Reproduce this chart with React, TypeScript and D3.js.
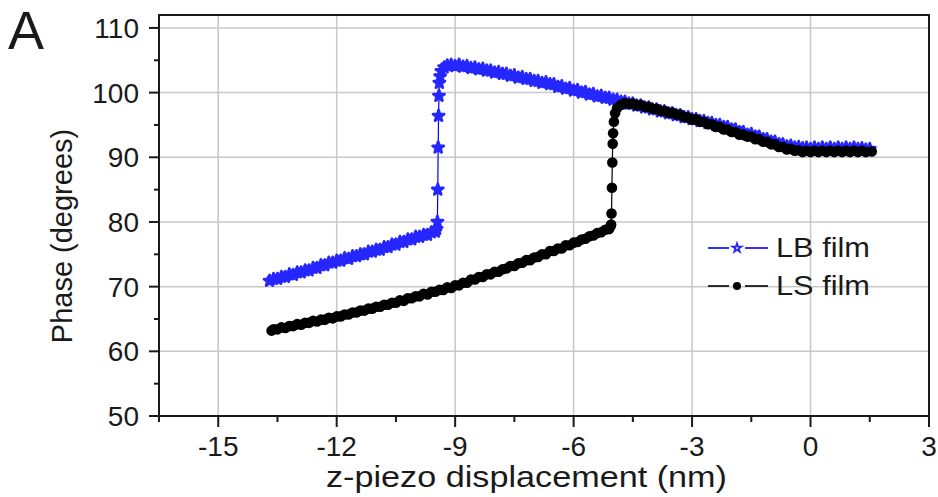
import React from "react";
import * as d3 from "d3";

// LB film (blue, stars): [z-piezo displacement (nm), phase (deg)]
const lbFilm: [number, number][] = [
  [-13.7, 70.9], [-13.6, 71.2], [-13.5, 71.2], [-13.4, 71.5], [-13.3, 71.5], [-13.2, 71.9],
  [-13.1, 71.8], [-13.0, 72.2], [-12.9, 72.2], [-12.8, 72.5], [-12.7, 72.5], [-12.6, 72.9],
  [-12.5, 72.9], [-12.4, 73.3], [-12.3, 73.3], [-12.2, 73.7], [-12.1, 73.7], [-12.0, 74.0],
  [-11.9, 74.0], [-11.8, 74.4], [-11.7, 74.3], [-11.6, 74.7], [-11.5, 74.7], [-11.4, 75.0],
  [-11.3, 75.0], [-11.2, 75.4], [-11.1, 75.4], [-11.0, 75.7], [-10.9, 75.7], [-10.8, 76.1],
  [-10.7, 76.1], [-10.6, 76.5], [-10.5, 76.5], [-10.4, 76.9], [-10.3, 76.9], [-10.2, 77.3],
  [-10.1, 77.3], [-10.0, 77.7], [-9.9, 77.7], [-9.8, 78.0], [-9.7, 78.0], [-9.6, 78.4],
  [-9.5, 78.5], [-9.47, 78.9],
  [-9.45, 80.0], [-9.44, 85.0], [-9.43, 91.5], [-9.42, 96.4], [-9.41, 99.5],
  [-9.4, 101.5], [-9.38, 102.5], [-9.35, 103.3], [-9.28, 103.9], [-9.2, 104.2],
  [-9.1, 104.3], [-9.0, 104.1], [-8.9, 104.3], [-8.8, 104.0], [-8.7, 104.1], [-8.6, 103.8],
  [-8.5, 103.9], [-8.4, 103.6], [-8.3, 103.7], [-8.2, 103.4], [-8.1, 103.4], [-8.0, 103.1],
  [-7.9, 103.2], [-7.8, 102.9], [-7.7, 102.9], [-7.6, 102.6], [-7.5, 102.7], [-7.4, 102.3],
  [-7.3, 102.4], [-7.2, 102.1], [-7.1, 102.1], [-7.0, 101.8], [-6.9, 101.8], [-6.8, 101.5],
  [-6.7, 101.6], [-6.6, 101.3], [-6.5, 101.3], [-6.4, 100.9], [-6.3, 101.0], [-6.2, 100.6],
  [-6.1, 100.7], [-6.0, 100.3], [-5.9, 100.4], [-5.8, 100.0], [-5.7, 100.1], [-5.6, 99.7],
  [-5.5, 99.8], [-5.4, 99.4], [-5.3, 99.5], [-5.2, 99.2], [-5.1, 99.2], [-5.0, 98.9],
  [-4.9, 98.9], [-4.8, 98.6], [-4.7, 98.6], [-4.6, 98.3], [-4.5, 98.3], [-4.4, 98.0],
  [-4.3, 98.0], [-4.2, 97.7], [-4.1, 97.7], [-4.0, 97.4], [-3.9, 97.4], [-3.8, 97.1],
  [-3.7, 97.1], [-3.6, 96.8], [-3.5, 96.8], [-3.4, 96.5], [-3.3, 96.5], [-3.2, 96.2],
  [-3.1, 96.2], [-3.0, 95.9], [-2.9, 95.9], [-2.8, 95.6], [-2.7, 95.6], [-2.6, 95.3],
  [-2.5, 95.3], [-2.4, 95.0], [-2.3, 95.0], [-2.2, 94.7], [-2.1, 94.7], [-2.0, 94.3],
  [-1.9, 94.3], [-1.8, 93.9], [-1.7, 93.9], [-1.6, 93.5], [-1.5, 93.6], [-1.4, 93.2],
  [-1.3, 93.2], [-1.2, 92.8], [-1.1, 92.8], [-1.0, 92.4], [-0.9, 92.4], [-0.8, 92.0],
  [-0.7, 92.0], [-0.6, 91.7], [-0.5, 91.8], [-0.4, 91.5], [-0.3, 91.6], [-0.2, 91.4],
  [-0.1, 91.5], [0.0, 91.3], [0.1, 91.5], [0.2, 91.3], [0.3, 91.5], [0.4, 91.3],
  [0.5, 91.5], [0.6, 91.3], [0.7, 91.5], [0.8, 91.3], [0.9, 91.5], [1.0, 91.3],
  [1.1, 91.5], [1.2, 91.3], [1.3, 91.4], [1.4, 91.2], [1.5, 91.3],
];

// LS film (black, circles)
const lsFilm: [number, number][] = [
  [-13.65, 63.2], [-13.6, 63.4], [-13.5, 63.4], [-13.4, 63.7], [-13.3, 63.6], [-13.2, 63.9],
  [-13.1, 63.9], [-13.0, 64.2], [-12.9, 64.1], [-12.8, 64.4], [-12.7, 64.4], [-12.6, 64.7],
  [-12.5, 64.6], [-12.4, 64.9], [-12.3, 64.9], [-12.2, 65.2], [-12.1, 65.1], [-12.0, 65.4],
  [-11.9, 65.4], [-11.8, 65.7], [-11.7, 65.7], [-11.6, 66.0], [-11.5, 66.0], [-11.4, 66.3],
  [-11.3, 66.3], [-11.2, 66.6], [-11.1, 66.6], [-11.0, 66.9], [-10.9, 66.9], [-10.8, 67.2],
  [-10.7, 67.2], [-10.6, 67.5], [-10.5, 67.5], [-10.4, 67.9], [-10.3, 67.8], [-10.2, 68.2],
  [-10.1, 68.2], [-10.0, 68.5], [-9.9, 68.5], [-9.8, 68.9], [-9.7, 68.8], [-9.6, 69.2],
  [-9.5, 69.2], [-9.4, 69.5], [-9.3, 69.5], [-9.2, 69.9], [-9.1, 69.8], [-9.0, 70.2],
  [-8.9, 70.2], [-8.8, 70.6], [-8.7, 70.6], [-8.6, 71.1], [-8.5, 71.1], [-8.4, 71.5],
  [-8.3, 71.5], [-8.2, 71.9], [-8.1, 71.9], [-8.0, 72.3], [-7.9, 72.3], [-7.8, 72.7],
  [-7.7, 72.8], [-7.6, 73.2], [-7.5, 73.2], [-7.4, 73.6], [-7.3, 73.7], [-7.2, 74.1],
  [-7.1, 74.1], [-7.0, 74.5], [-6.9, 74.6], [-6.8, 75.0], [-6.7, 75.0], [-6.6, 75.5],
  [-6.5, 75.5], [-6.4, 75.9], [-6.3, 75.9], [-6.2, 76.4], [-6.1, 76.4], [-6.0, 76.8],
  [-5.9, 76.9], [-5.8, 77.3], [-5.7, 77.4], [-5.6, 77.8], [-5.5, 77.9], [-5.4, 78.3],
  [-5.3, 78.4], [-5.2, 78.8], [-5.1, 78.9], [-5.06, 79.4],
  [-5.05, 79.6], [-5.04, 81.3], [-5.03, 85.3], [-5.02, 89.2], [-5.01, 92.1],
  [-5.0, 93.7], [-4.98, 95.5], [-4.95, 96.8], [-4.9, 97.6], [-4.8, 98.1],
  [-4.7, 98.4], [-4.6, 98.2], [-4.5, 98.3], [-4.4, 98.0], [-4.3, 98.1], [-4.2, 97.8],
  [-4.1, 97.8], [-4.0, 97.5], [-3.9, 97.5], [-3.8, 97.2], [-3.7, 97.2], [-3.6, 96.9],
  [-3.5, 96.9], [-3.4, 96.6], [-3.3, 96.6], [-3.2, 96.2], [-3.1, 96.2], [-3.0, 95.8],
  [-2.9, 95.9], [-2.8, 95.5], [-2.7, 95.5], [-2.6, 95.1], [-2.5, 95.1], [-2.4, 94.7],
  [-2.3, 94.7], [-2.2, 94.3], [-2.1, 94.3], [-2.0, 93.9], [-1.9, 93.9], [-1.8, 93.5],
  [-1.7, 93.5], [-1.6, 93.2], [-1.5, 93.2], [-1.4, 92.8], [-1.3, 92.8], [-1.2, 92.4],
  [-1.1, 92.4], [-1.0, 92.0], [-0.9, 92.0], [-0.8, 91.6], [-0.7, 91.6], [-0.6, 91.2],
  [-0.5, 91.3], [-0.4, 91.0], [-0.3, 91.1], [-0.2, 90.8], [-0.1, 91.0], [0.0, 90.8],
  [0.1, 91.0], [0.2, 90.8], [0.3, 91.0], [0.4, 90.8], [0.5, 91.0], [0.6, 90.8],
  [0.7, 91.0], [0.8, 90.8], [0.9, 91.0], [1.0, 90.8], [1.1, 91.0], [1.2, 90.8],
  [1.3, 91.0], [1.4, 90.8], [1.55, 90.9],
];

const xMajorTicks = [-15, -12, -9, -6, -3, 0, 3];
const xMinorTicks = [-16.5, -13.5, -10.5, -7.5, -4.5, -1.5, 1.5];
const yMajorTicks = [50, 60, 70, 80, 90, 100, 110];
const yMinorTicks = [55, 65, 75, 85, 95, 105];
const legendLabels = ["LB film", "LS film"];

const W = 938;
const H = 497;
const M = { left: 159, right: 929, top: 15, bottom: 416 };
const FONT = "'Liberation Sans', Arial, sans-serif";
const BLUE = "#2626ff";
const INK = "#1a1a1a";

export default function App() {
  const x = d3.scaleLinear().domain([-16.5, 3]).range([M.left, M.right]);
  const y = d3.scaleLinear().domain([50, 112]).range([M.bottom, M.top]);
  const line = d3
    .line<[number, number]>()
    .x((d) => x(d[0]))
    .y((d) => y(d[1]));
  const star = d3.symbol().type(d3.symbolStar).size(38)() as string;
  const starLegend = d3.symbol().type(d3.symbolStar).size(24)() as string;

  return (
    <svg
      width={W}
      height={H}
      style={{ position: "absolute", left: 0, top: 0, background: "#fff" }}
      fontFamily={FONT}
    >
      <rect x={0} y={0} width={W} height={H} fill="#fff" />
      {/* grid */}
      {xMajorTicks
        .filter((t) => t > -16.5 && t < 3)
        .map((t) => (
          <line key={"gx" + t} x1={x(t)} x2={x(t)} y1={M.top} y2={M.bottom} stroke="#c8c8c8" strokeWidth={1.5} />
        ))}
      {yMajorTicks
        .filter((t) => t > 50)
        .map((t) => (
          <line key={"gy" + t} x1={M.left} x2={M.right} y1={y(t)} y2={y(t)} stroke="#c8c8c8" strokeWidth={1.5} />
        ))}

      {/* LB film */}
      <path d={line(lbFilm) || ""} fill="none" stroke="#0000ff" strokeWidth={1.2} />
      {lbFilm.map((d, i) => (
        <path key={"lb" + i} d={star} transform={`translate(${x(d[0])},${y(d[1])})`} fill={BLUE} stroke={BLUE} strokeWidth={2.8} strokeLinejoin="round" />
      ))}
      {/* LS film */}
      <path d={line(lsFilm) || ""} fill="none" stroke="#000" strokeWidth={1.2} />
      {lsFilm.map((d, i) => (
        <circle key={"ls" + i} cx={x(d[0])} cy={y(d[1])} r={5.3} fill="#000" />
      ))}

      {/* frame */}
      <rect x={M.left} y={M.top} width={M.right - M.left} height={M.bottom - M.top} fill="none" stroke={INK} strokeWidth={2} />

      {/* x ticks */}
      {xMajorTicks.map((t) => (
        <g key={"xt" + t}>
          <line x1={x(t)} x2={x(t)} y1={M.bottom} y2={M.bottom + 11} stroke={INK} strokeWidth={2} />
          <text x={x(t)} y={456} textAnchor="middle" fontSize={28} fill={INK}>
            {t}
          </text>
        </g>
      ))}
      {xMinorTicks.map((t) => (
        <line key={"xm" + t} x1={x(t)} x2={x(t)} y1={M.bottom} y2={M.bottom + 6} stroke={INK} strokeWidth={2} />
      ))}
      {/* y ticks */}
      {yMajorTicks.map((t) => (
        <g key={"yt" + t}>
          <line x1={M.left - 10} x2={M.left} y1={y(t)} y2={y(t)} stroke={INK} strokeWidth={2} />
          <text x={139} y={y(t) + 10} textAnchor="end" fontSize={28} fill={INK}>
            {t}
          </text>
        </g>
      ))}
      {yMinorTicks.map((t) => (
        <line key={"ym" + t} x1={M.left - 5} x2={M.left} y1={y(t)} y2={y(t)} stroke={INK} strokeWidth={2} />
      ))}

      {/* axis titles */}
      <text x={326} y={487} fontSize={29} fill={INK} textLength={401} lengthAdjust="spacingAndGlyphs">
        z-piezo displacement (nm)
      </text>
      <text transform={`translate(72,236) rotate(-90)`} textAnchor="middle" fontSize={29} fill={INK}>
        Phase (degrees)
      </text>
      <text x={8} y={49} fontSize={54} fill={INK}>
        A
      </text>

      {/* legend */}
      <g>
        <line x1={708} x2={729} y1={248} y2={248} stroke="#0000ff" strokeWidth={1.6} />
        <line x1={745} x2={768} y1={248} y2={248} stroke="#0000ff" strokeWidth={1.6} />
        <path d={starLegend} transform="translate(737,248)" fill="none" stroke={BLUE} strokeWidth={1.8} />
        <text x={776} y={257} fontSize={28} fill={INK} textLength={94} lengthAdjust="spacingAndGlyphs">
          {legendLabels[0]}
        </text>
        <line x1={708} x2={729} y1={286} y2={286} stroke="#000" strokeWidth={1.6} />
        <line x1={745} x2={768} y1={286} y2={286} stroke="#000" strokeWidth={1.6} />
        <circle cx={737} cy={286} r={4} fill="#000" />
        <text x={776} y={295} fontSize={28} fill={INK} textLength={94} lengthAdjust="spacingAndGlyphs">
          {legendLabels[1]}
        </text>
      </g>
    </svg>
  );
}
